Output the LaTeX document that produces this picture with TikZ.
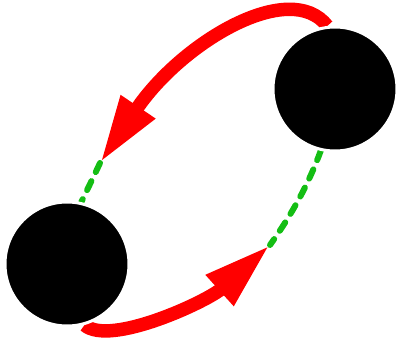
\documentclass[tikz,border=0pt]{standalone}
\usetikzlibrary{arrows.meta,backgrounds}
\definecolor{dgreen}{RGB}{20,190,20}
\begin{document}
\begin{tikzpicture}[x=1pt,y=-1pt,
  ball/.style={circle,fill=black,draw=white,line width=3pt,minimum size=124pt,inner sep=0pt},
  redarrow/.style={draw=red,line width=13.5pt,-{Triangle[length=68pt,width=38pt]}},
  greendash/.style={draw=dgreen,line width=6pt,line cap=round,dash pattern=on 10pt off 10pt}]
\useasboundingbox (0,0) rectangle (396,347);
\node[ball] (R) at (335,89) {};
\node[ball] (L) at (67,264) {};
\coordinate (T1) at (100,163);
\coordinate (T2) at (270,245);
\begin{scope}[on background layer]
\draw[redarrow] (R.97) .. controls (290,-22) and (182,42) .. (T1);
\draw[redarrow] (L.-74) .. controls (110,347) and (208,301) .. (T2);
\draw[greendash] (T1) .. controls (94,176) and (88,188) .. (L.77);
\draw[greendash] (R.-103) .. controls (310,180) and (295,210) .. (T2);
\end{scope}
\end{tikzpicture}
\end{document}
